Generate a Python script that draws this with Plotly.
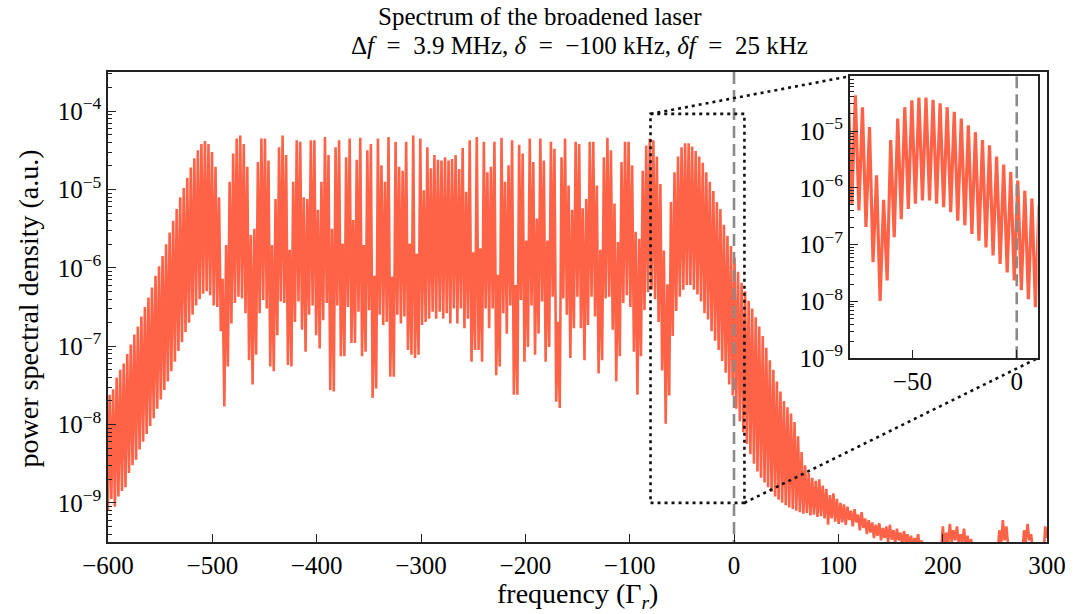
import plotly.graph_objects as go

# ---------------- data ----------------
# comb teeth: frequency (units of Gamma_r) of tooth k is TOOTH_OFFSET + k*TOOTH_SPACING,
# trough sits half a spacing after each tooth.
TOOTH_SPACING = 3.384
TOOTH_OFFSET = 0.5
K_START = -178

# log10(PSD) at tooth peaks and following troughs
peak_rise = [-7.80, -7.62, -7.55, -7.40, -7.30, -7.22, -7.10, -6.98, -6.85, -6.75,
             -6.62, -6.50, -6.38, -6.25, -6.10, -5.98, -5.85, -5.70, -5.55, -5.40,
             -5.25, -5.10, -4.98, -4.85, -4.72, -4.60, -4.50, -4.42, -4.38]
trough_rise = [-9.10, -8.95, -9.05, -8.92, -8.85, -8.80, -8.62, -8.52, -8.45, -8.32,
               -8.22, -8.12, -8.02, -7.92, -7.80, -7.68, -7.56, -7.45, -7.32, -7.20,
               -7.06, -6.95, -6.82, -6.70, -6.60, -6.48, -6.40, -6.33, -6.30]

peak_plateau = [
    -4.42, -4.52, -4.71, -5.10, -6.14, -5.71, -4.90, -4.54, -4.35, -4.31,
    -4.42, -4.71, -5.58, -5.50, -4.65, -4.35, -4.35, -4.63, -5.71, -5.12,
    -4.46, -4.31, -4.56, -5.77, -4.90, -4.37, -4.39, -5.10, -5.12, -4.37,
    -4.37, -5.26, -4.90, -4.33, -4.56, -5.50, -4.46, -4.37, -5.69, -4.59,
    -4.35, -5.39, -4.62,
    -4.34, -5.71, -4.50, -4.42, -6.10, -4.35, -4.69, -4.90, -4.33, -6.11,
    -4.39, -4.71, -4.76, -4.39, -5.69, -4.31, -5.82, -4.35, -5.01, -4.46,
    -4.73, -4.56, -4.62, -4.63, -4.59, -4.63, -4.61, -4.56, -4.74, -4.47,
    -5.03, -4.37, -5.80, -4.33, -5.75, -4.39, -4.78, -4.71, -4.39, -6.09,
    -4.34, -4.90, -4.69,
    -4.37, -6.22, -4.43, -4.54, -5.65, -4.35, -4.65, -5.37, -4.35, -4.63,
    -5.65, -4.39, -4.48, -6.69, -4.59, -4.35, -4.95, -5.26, -4.39, -4.42,
    -5.24, -5.12, -4.39, -4.39, -4.95, -5.77, -4.59, -4.34, -4.50, -5.18,
    -5.67, -4.65, -4.39, -4.39, -4.69, -5.54, -5.63, -4.76, -4.44, -4.35]
trough_plateau = [
    -6.35, -6.48, -6.50, -6.81, -7.77, -7.26, -6.71, -6.45, -6.37, -6.39,
    -6.58, -7.18, -7.49, -7.11, -6.58, -6.41, -6.52, -7.26, -7.32, -6.86,
    -6.43, -6.45, -7.24, -7.26, -6.69, -6.43, -6.79, -7.07, -6.60, -6.48,
    -6.86, -7.03, -6.67, -6.45, -7.56, -7.58, -6.48, -7.13, -7.13, -6.50,
    -6.96, -6.96, -6.56,
    -7.13, -7.07, -6.54, -7.66, -7.54, -6.60, -6.73, -6.69, -7.39, -7.39,
    -6.60, -6.71, -6.62, -7.05, -7.11, -7.15, -7.11, -6.73, -6.69, -6.65,
    -6.56, -6.65, -6.56, -6.65, -6.58, -6.71, -6.52, -6.71, -6.52, -6.77,
    -6.65, -7.20, -7.05, -7.05, -7.20, -6.52, -6.77, -6.52, -7.37, -7.26,
    -6.58, -6.84, -6.48,
    -7.62, -7.62, -6.41, -7.20, -7.01, -6.48, -7.11, -6.84, -6.43, -7.20,
    -7.01, -6.37, -7.71, -7.79, -6.39, -6.60, -7.15, -6.77, -6.37, -6.77,
    -7.18, -6.73, -6.37, -6.62, -7.35, -7.18, -6.39, -6.37, -6.79, -7.45,
    -7.13, -6.45, -6.35, -6.50, -7.07, -7.62, -7.13, -6.54, -6.31, -6.28]

peak_hump = [-4.37, -4.58, -4.93, -5.78, -6.21, -5.16, -4.78, -4.58, -4.46, -4.41,
             -4.41, -4.45, -4.51, -4.58, -4.66, -4.78, -4.90, -5.02, -5.16, -5.25,
             -5.45, -5.59, -5.72, -5.87, -6.05, -6.19]
trough_hump = [-6.40, -6.69, -7.31, -7.99, -7.63, -6.87, -6.55, -6.37, -6.28, -6.22,
               -6.22, -6.28, -6.34, -6.43, -6.58, -6.66, -6.81, -6.93, -7.05, -7.19,
               -7.34, -7.49, -7.63, -7.80, -7.96, -8.10]

peak_fall = [-6.30, -6.42, -6.52, -6.63, -6.75, -6.87, -7.02, -7.18, -7.30, -7.45,
             -7.58, -7.70, -7.78, -7.86, -7.97, -8.15, -8.35, -8.52, -8.62, -8.68,
             -8.72, -8.70, -8.78, -8.82, -8.90, -8.88, -8.95, -9.00]
trough_fall = [-8.25, -8.38, -8.50, -8.60, -8.68, -8.74, -8.80, -8.86, -8.92, -8.96,
               -9.00, -9.03, -9.06, -9.08, -9.10, -9.12, -9.14, -9.13, -9.16, -9.15,
               -9.18, -9.17, -9.20, -9.28, -9.20, -9.24, -9.27, -9.25]

peak_tail = [-9.02, -9.05, -9.10, -9.08, -9.15, -9.12, -9.20, -9.22, -9.25, -9.28,
             -9.26, -9.32, -9.30, -9.28, -9.35, -9.33, -9.38, -9.36, -9.40, -9.42,
             -9.45, -9.40, -9.48, -9.55, -9.58, -9.55, -9.60, -9.52, -9.30, -9.38,
             -9.27, -9.35, -9.30, -9.40, -9.33, -9.42, -9.46, -9.55, -9.62, -9.60,
             -9.58, -9.62, -9.60, -9.55, -9.35, -9.22, -9.30, -9.55, -9.62, -9.60,
             -9.55, -9.35, -9.27, -9.40, -9.58, -9.62, -9.50, -9.30]
trough_tail = [-9.28, -9.22, -9.30, -9.25, -9.35, -9.32, -9.40, -9.38, -9.45, -9.42,
               -9.48, -9.45, -9.50, -9.47, -9.52, -9.48, -9.55, -9.50, -9.56, -9.58,
               -9.55, -9.60, -9.62, -9.65, -9.70, -9.68, -9.72, -9.65, -9.55, -9.52,
               -9.50, -9.48, -9.52, -9.50, -9.55, -9.58, -9.62, -9.70, -9.75, -9.72,
               -9.70, -9.76, -9.72, -9.68, -9.55, -9.48, -9.55, -9.68, -9.74, -9.72,
               -9.66, -9.50, -9.48, -9.60, -9.70, -9.75, -9.68, -9.45]

x_ticks = [-600, -500, -400, -300, -200, -100, 0, 100, 200, 300]
y_exps = [-9, -8, -7, -6, -5, -4]
inset_x_ticks = [-50, 0]
inset_y_exps = [-9, -8, -7, -6, -5]

# ---------------- build line ----------------
peaks = peak_rise + peak_plateau + peak_hump + peak_fall + peak_tail
troughs = trough_rise + trough_plateau + trough_hump + trough_fall + trough_tail
freq, psd = [], []
for i, (p, t) in enumerate(zip(peaks, troughs)):
    f = TOOTH_OFFSET + (K_START + i) * TOOTH_SPACING
    freq += [f, f + TOOTH_SPACING / 2]
    psd += [10 ** p, 10 ** t]

MAIN_X = [-600, 300]
MAIN_Y = [-9.5, -3.5]
INSET_X = [-80, 10]
INSET_Y = [-9.0, -4.035]
INSET_DOM_X = [0.790, 0.990]
INSET_DOM_Y = [0.391, 0.991]

RED = '#FF6347'
AX = '#222222'
FONT = 'Liberation Serif'
TICK_SIZE = 25
LABEL_SIZE = 28

def minus(v):
    return str(v).replace('-', '\u2212')

def sup(e):
    return '10<sup>' + minus(e) + '</sup>'

def minor_vals(lo, hi):
    out = []
    for e in range(int(lo) - 1, int(hi) + 1):
        for m in range(2, 10):
            v = m * 10 ** e
            if 10 ** lo <= v <= 10 ** hi:
                out.append(v)
    return out

fig = go.Figure()
# main spectrum
fig.add_trace(go.Scatter(x=freq, y=psd, mode='lines', line=dict(color=RED, width=2.6),
                         xaxis='x', yaxis='y', hoverinfo='skip'))
# dashed zero line
fig.add_trace(go.Scatter(x=[0, 0], y=[10 ** MAIN_Y[1], 10 ** MAIN_Y[0]], mode='lines',
                         line=dict(color='#8a8a8a', width=2.6, dash='12px,6px'),
                         xaxis='x', yaxis='y', hoverinfo='skip'))
# zoom rectangle
rx = [INSET_X[0], INSET_X[1], INSET_X[1], INSET_X[0], INSET_X[0]]
ry = [10 ** INSET_Y[0], 10 ** INSET_Y[0], 10 ** INSET_Y[1], 10 ** INSET_Y[1], 10 ** INSET_Y[0]]
dot = dict(color='#111111', width=2.6, dash='3px,4px')
fig.add_trace(go.Scatter(x=rx, y=ry, mode='lines', line=dot, xaxis='x', yaxis='y', hoverinfo='skip'))
# connectors (inset corners in main data coordinates)
tl_x = MAIN_X[0] + INSET_DOM_X[0] * (MAIN_X[1] - MAIN_X[0])
tl_y = 10 ** (MAIN_Y[0] + INSET_DOM_Y[1] * (MAIN_Y[1] - MAIN_Y[0]))
br_x = MAIN_X[0] + INSET_DOM_X[1] * (MAIN_X[1] - MAIN_X[0])
br_y = 10 ** (MAIN_Y[0] + INSET_DOM_Y[0] * (MAIN_Y[1] - MAIN_Y[0]))
fig.add_trace(go.Scatter(x=[INSET_X[0], tl_x, None, INSET_X[1], br_x],
                         y=[10 ** INSET_Y[1], tl_y, None, 10 ** INSET_Y[0], br_y],
                         mode='lines', line=dot, xaxis='x', yaxis='y', hoverinfo='skip'))
# inset spectrum
fig.add_trace(go.Scatter(x=freq, y=psd, mode='lines', line=dict(color=RED, width=3.2),
                         xaxis='x2', yaxis='y2', hoverinfo='skip'))
fig.add_trace(go.Scatter(x=[0, 0], y=[10 ** INSET_Y[1], 10 ** INSET_Y[0]], mode='lines',
                         line=dict(color='#8a8a8a', width=2.6, dash='12px,6px'),
                         xaxis='x2', yaxis='y2', hoverinfo='skip'))

common = dict(showgrid=False, zeroline=False, showline=True, linecolor=AX, linewidth=1.5,
              mirror=True, ticks='inside', tickcolor=AX, tickwidth=1.3, ticklen=8,
              tickfont=dict(family=FONT, size=TICK_SIZE, color='black'))

fig.update_layout(
    width=1078, height=614, margin=dict(l=108, r=25, t=72, b=72),
    paper_bgcolor='white', plot_bgcolor='white', showlegend=False,
    font=dict(family=FONT, size=TICK_SIZE, color='black'),
    xaxis=dict(range=MAIN_X, tickmode='array', tickvals=x_ticks,
               ticktext=[minus(v) for v in x_ticks], **common),
    yaxis=dict(type='log', range=MAIN_Y, tickmode='array',
               tickvals=[10 ** e for e in y_exps], ticktext=[sup(e) for e in y_exps],
               minor=dict(tickmode='array', tickvals=minor_vals(*MAIN_Y), ticks='inside',
                          ticklen=4.5, tickwidth=1.1, tickcolor=AX, showgrid=False),
               **common),
    xaxis2=dict(domain=INSET_DOM_X, anchor='y2', range=INSET_X, tickmode='array',
                tickvals=inset_x_ticks, ticktext=[minus(v) for v in inset_x_ticks], **common),
    yaxis2=dict(domain=INSET_DOM_Y, anchor='x2', type='log', range=INSET_Y, tickmode='array',
                tickvals=[10 ** e for e in inset_y_exps], ticktext=[sup(e) for e in inset_y_exps],
                minor=dict(tickmode='array', tickvals=minor_vals(*INSET_Y), ticks='inside',
                           ticklen=4.5, tickwidth=1.1, tickcolor=AX, showgrid=False),
                **common),
)

def ann(size):
    return dict(xref='paper', yref='paper', showarrow=False,
                font=dict(family=FONT, size=size, color='black'))

fig.add_annotation(text='Spectrum of the broadened laser', x=0.460, y=1.119,
                   xanchor='center', yanchor='middle', **ann(25))
fig.add_annotation(text='\u0394<i>f</i>\u2002=\u20023.9 MHz, <i>\u03b4</i>\u2002=\u2002\u2212100 kHz, <i>\u03b4f</i>\u2002=\u200225 kHz',
                   x=0.5016, y=1.057, xanchor='center', yanchor='middle', **ann(25))
fig.add_annotation(text='frequency (\u0393<sub><i>r</i></sub>)', x=0.4995, y=-0.113,
                   xanchor='center', yanchor='middle', **ann(LABEL_SIZE))
fig.add_annotation(text='power spectral density (a.u.)', x=-0.0847, y=0.498, textangle=-90,
                   xanchor='center', yanchor='middle', **ann(LABEL_SIZE))

fig.write_html('out.html')
